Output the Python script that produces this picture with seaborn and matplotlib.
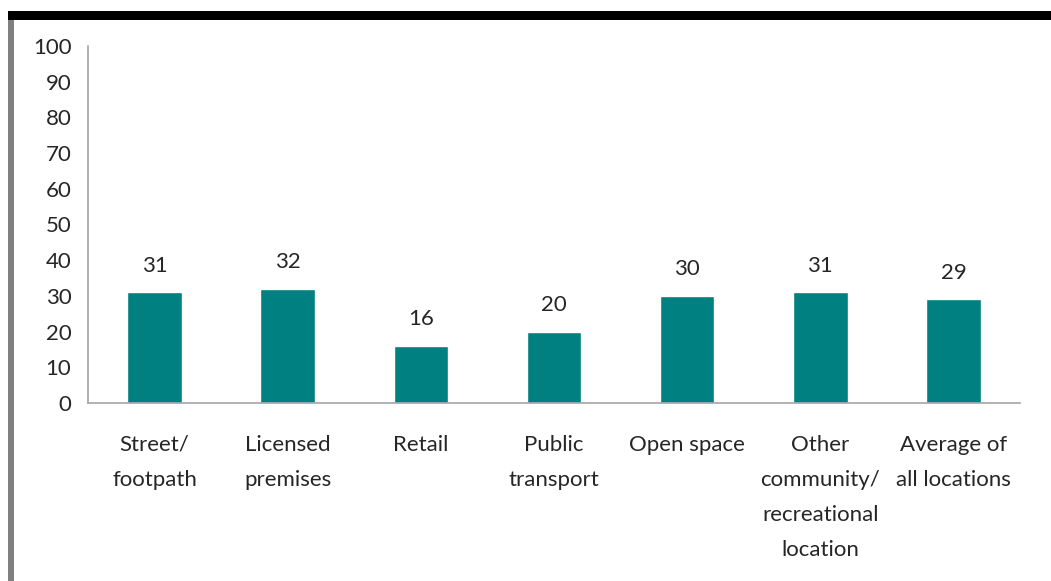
import matplotlib
matplotlib.use('Agg')
import matplotlib.pyplot as plt
from matplotlib.patches import Rectangle
import pandas as pd
import seaborn as sns

categories = ['Street/\nfootpath', 'Licensed\npremises', 'Retail', 'Public\ntransport',
              'Open space', 'Other\ncommunity/\nrecreational\nlocation', 'Average of\nall locations']
values = [31, 32, 16, 20, 30, 31, 29]

sns.set_style('white')
plt.rcParams['font.family'] = ['Lato', 'DejaVu Sans']

df = pd.DataFrame({'location': categories, 'pct': values})

fig = plt.figure(figsize=(10.51, 5.81), dpi=100)
ax = fig.add_axes([88/1051, 1 - 403/581, (1020 - 88)/1051, (403 - 46)/581])

sns.barplot(data=df, x='location', y='pct', color='#008080', width=0.41, saturation=1, ax=ax)

for i, v in enumerate(values):
    ax.annotate(str(v), (i, v), xytext=(0, 12), textcoords='offset points',
                ha='center', va='bottom', fontsize=16)

ax.set_ylim(0, 100)
ax.set_yticks(range(0, 101, 10))
ax.set_xlim(-0.5, len(values) - 0.5)
ax.set_xlabel('')
ax.set_ylabel('')

ax.set_xticks(range(len(values)))
ax.set_xticklabels(categories, fontsize=16, linespacing=1.93, va='top')
ax.set_xticks([i - 0.5 for i in range(len(values) + 1)], minor=True)
ax.tick_params(axis='x', which='major', length=0, pad=23)
ax.tick_params(axis='x', which='minor', length=7, width=1, color='#a6a6a6', direction='out')
ax.tick_params(axis='y', length=7, width=1, color='#a6a6a6', direction='out', labelsize=16, pad=5)

for s in ['top', 'right']:
    ax.spines[s].set_visible(False)
for s in ['left', 'bottom']:
    ax.spines[s].set_color('#a6a6a6')
    ax.spines[s].set_linewidth(1.2)

# black band at the top and grey rule on the left
fig.add_artist(Rectangle((8/1051, 1 - 20/581), 1, 9/581, transform=fig.transFigure,
                         color='black', lw=0))
fig.add_artist(Rectangle((8/1051, 0), 6/1051, 1 - 20/581, transform=fig.transFigure,
                         color='#808080', lw=0))

fig.savefig('out.png', dpi=100, facecolor='white')
